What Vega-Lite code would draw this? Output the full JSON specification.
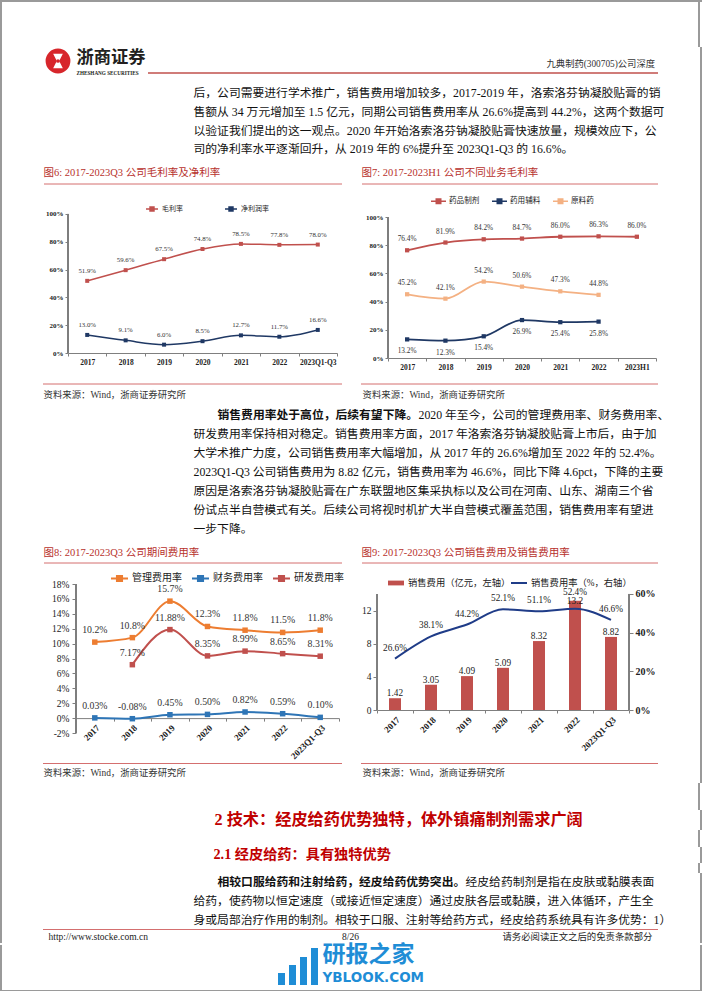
{
"$schema":"https://vega.github.io/schema/vega-lite/v6.json",
"padding":0,
"background":"white",
"spacing":0,
"resolve":{"scale":{"color":"independent","stroke":"independent"}},
"config":{
 "view":{"stroke":null},
 "font":"Liberation Serif, Noto Sans CJK SC",
 "concat":{"spacing":0},
 "axis":{"grid":false,"labelColor":"#222","domainColor":"#7f7f7f","tickColor":"#7f7f7f","labelFont":"Liberation Serif"},
 "legend":{"labelColor":"#222","labelFont":"Liberation Serif, Noto Sans CJK SC"},
 "locale":{"number":{"decimal":".","thousands":",","grouping":[3],"currency":["",""],"minus":"-"}}
},
"vconcat":[
 {"width":702,"height":2,"data":{"values":[{}]},"mark":{"type":"rect","color":"#9a9a9a"},"encoding":{}},
 {"hconcat":[
  {"width":2,"height":45,"data":{"values":[{}]},"mark":{"type":"rect","color":"#9a9a9a"},"encoding":{}},
  {"width":696,"height":45,"data":{"values":[]},"mark":"rect"},
  {"width":2,"height":45,"data":{"values":[{}]},"mark":{"type":"rect","color":"#9a9a9a"},"encoding":{}}
 ],"spacing":0,"bounds":"flush"},
 {"hconcat":[
  {"width":2,"height":37,"data":{"values":[{}]},"mark":{"type":"rect","color":"#9a9a9a"},"encoding":{}},
  {"width":42,"height":1,"data":{"values":[]},"mark":"rect"},
  {"width":28,"height":28,"data":{"values":[{}]},"layer":[
   {"mark":{"type":"point","shape":"circle","size":616,"filled":true,"color":"#d7262b","opacity":1},"encoding":{}},
   {"mark":{"type":"point","shape":"M-0.6,-0.9L0.6,-0.9L0.15,0L0.6,0.9L-0.6,0.9L-0.15,0Z","size":260,"filled":true,"color":"#ffffff","opacity":1},"encoding":{}},
   {"mark":{"type":"point","shape":"circle","size":14,"filled":true,"color":"#d7262b","opacity":1},"encoding":{}}
  ]},
  {"width":4,"height":1,"data":{"values":[]},"mark":"rect"},
  {"width":1,"height":37,"data":{"values":[{"line":1,"t":"浙商证券"},{"line":2,"t":"ZHESHANG SECURITIES"}]},
   "encoding":{"y":{"field":"line","type":"ordinal","axis":null,"scale":{"domain":[1,2],"padding":0.6935}},"text":{"field":"t"}},
   "layer":[
    {"transform":[{"filter":"datum.line === 1"}],"mark":{"type":"text","align":"left","baseline":"middle","font":"Noto Sans CJK SC","fontSize":17.3,"fontWeight":"bold","color":"#231f20"}},
    {"transform":[{"filter":"datum.line === 2"}],"mark":{"type":"text","align":"left","baseline":"middle","font":"Liberation Serif","fontSize":5.2,"fontWeight":"bold","color":"#231f20"}}
   ]},
  {"width":71,"height":1,"data":{"values":[]},"mark":"rect"},
  {"width":510,"height":26,"layer":[
   {"data":{"values":[{}]},"mark":{"type":"rule","color":"#c0504d","strokeWidth":1.5},"encoding":{"y":{"value":"height"}}},
   {"data":{"values":[{"line":2,"t":"九典制药(300705)公司深度"}]},"mark":{"type":"text","align":"right","baseline":"middle","fontSize":9.3,"color":"#333","dx":-3},"encoding":{"x":{"value":"width"},"y":{"field":"line","type":"ordinal","axis":null,"scale":{"domain":[1,2],"padding":1.125}},"text":{"field":"t"}}}
  ]},
  {"width":42,"height":1,"data":{"values":[]},"mark":"rect"},
  {"width":2,"height":37,"data":{"values":[{}]},"mark":{"type":"rect","color":"#9a9a9a"},"encoding":{}}
 ],"spacing":0,"bounds":"flush"},
 {"hconcat":[
  {"width":2,"height":75,"data":{"values":[{}]},"mark":{"type":"rect","color":"#9a9a9a"},"encoding":{}},
  {"width":191,"height":1,"data":{"values":[]},"mark":"rect"},
  {"width":1,"height":{"step":18.7},"data":{"values":[
   {"line":1,"t":"后，公司需要进行学术推广，销售费用增加较多，2017-2019 年，洛索洛芬钠凝胶贴膏的销"},
   {"line":2,"t":"售额从 34 万元增加至 1.5 亿元，同期公司销售费用率从 26.6%提高到 44.2%，这两个数据可"},
   {"line":3,"t":"以验证我们提出的这一观点。2020 年开始洛索洛芬钠凝胶贴膏快速放量，规模效应下，公"},
   {"line":4,"t":"司的净利率水平逐渐回升，从 2019 年的 6%提升至 2023Q1-Q3 的 16.6%。"}
  ]},"mark":{"type":"text","align":"left","baseline":"middle","fontSize":11.8,"color":"#111"},"encoding":{"y":{"field":"line","type":"ordinal","axis":null},"text":{"field":"t"}}},
  {"width":506,"height":1,"data":{"values":[]},"mark":"rect"},
  {"width":2,"height":75,"data":{"values":[{}]},"mark":{"type":"rect","color":"#9a9a9a"},"encoding":{}}
 ],"spacing":0,"bounds":"flush"},
 {"hconcat":[
  {"width":2,"height":28,"data":{"values":[{}]},"mark":{"type":"rect","color":"#9a9a9a"},"encoding":{}},
  {"width":41,"height":1,"data":{"values":[]},"mark":"rect"},
  {"width":1,"height":28,"data":{"values":[{"t":"图6:  2017-2023Q3 公司毛利率及净利率"}]},"mark":{"type":"text","align":"left","baseline":"middle","fontSize":10.5,"color":"#b7312c"},"encoding":{"text":{"field":"t"}}},
  {"width":298,"height":25,"data":{"values":[{}]},"mark":{"type":"rule","color":"#d46f6f","strokeWidth":1},"encoding":{"y":{"value":"height"}}},
  {"width":19,"height":1,"data":{"values":[]},"mark":"rect"},
  {"width":1,"height":28,"data":{"values":[{"t":"图7:  2017-2023H1 公司不同业务毛利率"}]},"mark":{"type":"text","align":"left","baseline":"middle","fontSize":10.5,"color":"#b7312c"},"encoding":{"text":{"field":"t"}}},
  {"width":296,"height":25,"data":{"values":[{}]},"mark":{"type":"rule","color":"#d46f6f","strokeWidth":1},"encoding":{"y":{"value":"height"}}},
  {"width":42,"height":1,"data":{"values":[]},"mark":"rect"},
  {"width":2,"height":28,"data":{"values":[{}]},"mark":{"type":"rect","color":"#9a9a9a"},"encoding":{}}
 ],"spacing":0,"bounds":"flush"},
 {"hconcat":[
  {"width":2,"height":189,"data":{"values":[{}]},"mark":{"type":"rect","color":"#9a9a9a"},"encoding":{}},
  {"width":66,"height":1,"data":{"values":[]},"mark":"rect"},
  {"width":269,"height":166,
   "data":{"values":[
    {"x":"2017","s":"毛利率","v":0.519},{"x":"2018","s":"毛利率","v":0.596},{"x":"2019","s":"毛利率","v":0.675},{"x":"2020","s":"毛利率","v":0.748},{"x":"2021","s":"毛利率","v":0.785},{"x":"2022","s":"毛利率","v":0.778},{"x":"2023Q1-Q3","s":"毛利率","v":0.780},
    {"x":"2017","s":"净利润率","v":0.130},{"x":"2018","s":"净利润率","v":0.091},{"x":"2019","s":"净利润率","v":0.060},{"x":"2020","s":"净利润率","v":0.085},{"x":"2021","s":"净利润率","v":0.127},{"x":"2022","s":"净利润率","v":0.117},{"x":"2023Q1-Q3","s":"净利润率","v":0.166}
   ]},
   "encoding":{
    "x":{"field":"x","type":"ordinal","sort":null,"scale":{"type":"band","paddingInner":0,"paddingOuter":0},"axis":{"title":null,"labelAngle":0,"labelFontWeight":"bold","labelFontSize":7.5,"labelPadding":2,"tickSize":3,"tickBand":"extent"}},
    "y":{"field":"v","type":"quantitative","scale":{"domain":[0,1.19424],"nice":false},"axis":{"title":null,"domain":false,"format":".0%","values":[0,0.2,0.4,0.6,0.8,1],"labelFontWeight":"bold","labelFontSize":7,"tickSize":3,"labelPadding":2}},
    "color":{"field":"s","type":"nominal","scale":{"domain":["毛利率","净利润率"],"range":["#c0504d","#1f3864"]},"legend":{"title":null,"orient":"none","legendX":77,"legendY":15,"direction":"horizontal","symbolType":"M-1,0H1M-0.33,-0.33H0.33V0.33H-0.33Z","symbolSize":144,"symbolStrokeWidth":1.5,"labelFontSize":7,"labelOffset":3,"columnPadding":39}}
   },
   "layer":[
    {"mark":{"type":"rule"},"encoding":{"x":{"datum":"2017","type":"ordinal","bandPosition":0},"y":{"datum":0},"y2":{"datum":1},"color":{"value":"#7f7f7f"}}},
    {"mark":{"type":"line","interpolate":"monotone","strokeWidth":1.5}},
    {"mark":{"type":"square","size":16,"opacity":1,"filled":true}},
    {"mark":{"type":"text","dy":-10,"fontSize":6.8},"encoding":{"text":{"field":"v","format":".1%"},"color":{"value":"#333"}}}
   ]},
  {"width":51,"height":1,"data":{"values":[]},"mark":"rect"},
  {"width":268,"height":171,
   "data":{"values":[
    {"x":"2017","s":"药品制剂","v":0.764},{"x":"2018","s":"药品制剂","v":0.819},{"x":"2019","s":"药品制剂","v":0.842},{"x":"2020","s":"药品制剂","v":0.847},{"x":"2021","s":"药品制剂","v":0.860},{"x":"2022","s":"药品制剂","v":0.863},{"x":"2023H1","s":"药品制剂","v":0.860},
    {"x":"2017","s":"药用辅料","v":0.132},{"x":"2018","s":"药用辅料","v":0.123},{"x":"2019","s":"药用辅料","v":0.154},{"x":"2020","s":"药用辅料","v":0.269},{"x":"2021","s":"药用辅料","v":0.254},{"x":"2022","s":"药用辅料","v":0.258},
    {"x":"2017","s":"原料药","v":0.452},{"x":"2018","s":"原料药","v":0.421},{"x":"2019","s":"原料药","v":0.542},{"x":"2020","s":"原料药","v":0.506},{"x":"2021","s":"原料药","v":0.473},{"x":"2022","s":"原料药","v":0.448}
   ]},
   "encoding":{
    "x":{"field":"x","type":"ordinal","sort":null,"scale":{"type":"band","paddingInner":0,"paddingOuter":0},"axis":{"title":null,"labelAngle":0,"labelFontWeight":"bold","labelFontSize":7.5,"labelPadding":2,"tickSize":3,"tickBand":"extent"}},
    "y":{"field":"v","type":"quantitative","scale":{"domain":[0,1.21277],"nice":false},"axis":{"title":null,"domain":false,"format":".0%","values":[0,0.2,0.4,0.6,0.8,1],"labelFontWeight":"bold","labelFontSize":7,"tickSize":3,"labelPadding":2}},
    "color":{"field":"s","type":"nominal","scale":{"domain":["药品制剂","药用辅料","原料药"],"range":["#c0504d","#1f3864","#f4b183"]},"legend":{"title":null,"orient":"none","legendX":42,"legendY":5.5,"direction":"horizontal","symbolType":"M-1,0H1M-0.3,-0.3H0.3V0.3H-0.3Z","symbolSize":225,"symbolStrokeWidth":1.5,"labelFontSize":7.6,"labelOffset":2,"columnPadding":9}}
   },
   "layer":[
    {"mark":{"type":"rule"},"encoding":{"x":{"datum":"2017","type":"ordinal","bandPosition":0},"y":{"datum":0},"y2":{"datum":1},"color":{"value":"#7f7f7f"}}},
    {"mark":{"type":"line","interpolate":"monotone","strokeWidth":1.8}},
    {"mark":{"type":"square","size":18,"opacity":1,"filled":true}},
    {"transform":[{"filter":"datum.s !== '药用辅料'"}],"mark":{"type":"text","dy":-11,"fontSize":7.3},"encoding":{"text":{"field":"v","format":".1%"},"color":{"value":"#333"}}},
    {"transform":[{"filter":"datum.s === '药用辅料'"}],"mark":{"type":"text","dy":12,"fontSize":7.3},"encoding":{"text":{"field":"v","format":".1%"},"color":{"value":"#333"}}}
   ]},
  {"width":44,"height":1,"data":{"values":[]},"mark":"rect"},
  {"width":2,"height":189,"data":{"values":[{}]},"mark":{"type":"rect","color":"#9a9a9a"},"encoding":{}}
 ],"spacing":0,"bounds":"flush","resolve":{"scale":{"color":"independent"}}},
 {"hconcat":[
  {"width":2,"height":9,"data":{"values":[{}]},"mark":{"type":"rect","color":"#9a9a9a"},"encoding":{}},
  {"width":41,"height":1,"data":{"values":[]},"mark":"rect"},
  {"width":299,"height":8,"data":{"values":[{}]},"mark":{"type":"rule","color":"#d46f6f","strokeWidth":1},"encoding":{"y":{"value":"height"}}},
  {"width":19,"height":1,"data":{"values":[]},"mark":"rect"},
  {"width":297,"height":8,"data":{"values":[{}]},"mark":{"type":"rule","color":"#d46f6f","strokeWidth":1},"encoding":{"y":{"value":"height"}}},
  {"width":42,"height":1,"data":{"values":[]},"mark":"rect"},
  {"width":2,"height":9,"data":{"values":[{}]},"mark":{"type":"rect","color":"#9a9a9a"},"encoding":{}}
 ],"spacing":0,"bounds":"flush"},
 {"hconcat":[
  {"width":2,"height":20,"data":{"values":[{}]},"mark":{"type":"rect","color":"#9a9a9a"},"encoding":{}},
  {"width":41,"height":1,"data":{"values":[]},"mark":"rect"},
  {"width":1,"height":19,"data":{"values":[{"t":"资料来源：Wind，浙商证券研究所"}]},"mark":{"type":"text","align":"left","baseline":"middle","fontSize":9.4,"color":"#333"},"encoding":{"text":{"field":"t"}}},
  {"width":318,"height":1,"data":{"values":[]},"mark":"rect"},
  {"width":1,"height":19,"data":{"values":[{"t":"资料来源：Wind，浙商证券研究所"}]},"mark":{"type":"text","align":"left","baseline":"middle","fontSize":9.4,"color":"#333"},"encoding":{"text":{"field":"t"}}},
  {"width":337,"height":1,"data":{"values":[]},"mark":"rect"},
  {"width":2,"height":20,"data":{"values":[{}]},"mark":{"type":"rect","color":"#9a9a9a"},"encoding":{}}
 ],"spacing":0,"bounds":"flush"},
 {"hconcat":[
  {"width":2,"height":133,"data":{"values":[{}]},"mark":{"type":"rect","color":"#9a9a9a"},"encoding":{}},
  {"width":191,"height":1,"data":{"values":[]},"mark":"rect"},
  {"width":1,"height":{"step":19},"data":{"values":[
   {"line":2,"t":"研发费用率保持相对稳定。销售费用率方面，2017 年洛索洛芬钠凝胶贴膏上市后，由于加"},
   {"line":3,"t":"大学术推广力度，公司销售费用率大幅增加，从 2017 年的 26.6%增加至 2022 年的 52.4%。"},
   {"line":4,"t":"2023Q1-Q3 公司销售费用为 8.82 亿元，销售费用率为 46.6%，同比下降 4.6pct，下降的主要"},
   {"line":5,"t":"原因是洛索洛芬钠凝胶贴膏在广东联盟地区集采执标以及公司在河南、山东、湖南三个省"},
   {"line":6,"t":"份试点半自营模式有关。后续公司将视时机扩大半自营模式覆盖范围，销售费用率有望进"},
   {"line":7,"t":"一步下降。"}
  ]},"mark":{"type":"text","align":"left","baseline":"middle","fontSize":11.8,"color":"#111"},"encoding":{"y":{"field":"line","type":"ordinal","axis":null,"scale":{"domain":[1,2,3,4,5,6,7]}},"text":{"field":"t"}}},
  {"width":23,"height":1,"data":{"values":[]},"mark":"rect"},
  {"width":1,"height":19,"data":{"values":[{"t":"销售费用率处于高位，后续有望下降。"}]},"mark":{"type":"text","align":"left","baseline":"middle","fontSize":11.8,"fontWeight":"bold","color":"#111"},"encoding":{"text":{"field":"t"}}},
  {"width":200,"height":1,"data":{"values":[]},"mark":"rect"},
  {"width":1,"height":19,"data":{"values":[{"t":"2020 年至今，公司的管理费用率、财务费用率、"}]},"mark":{"type":"text","align":"left","baseline":"middle","fontSize":11.8,"color":"#111"},"encoding":{"text":{"field":"t"}}},
  {"width":281,"height":1,"data":{"values":[]},"mark":"rect"},
  {"width":2,"height":133,"data":{"values":[{}]},"mark":{"type":"rect","color":"#9a9a9a"},"encoding":{}}
 ],"spacing":0,"bounds":"flush"},
 {"hconcat":[
  {"width":2,"height":30,"data":{"values":[{}]},"mark":{"type":"rect","color":"#9a9a9a"},"encoding":{}},
  {"width":41,"height":1,"data":{"values":[]},"mark":"rect"},
  {"width":1,"height":30,"data":{"values":[{"t":"图8:  2017-2023Q3 公司期间费用率"}]},"mark":{"type":"text","align":"left","baseline":"middle","fontSize":10.5,"color":"#b7312c"},"encoding":{"text":{"field":"t"}}},
  {"width":298,"height":25,"data":{"values":[{}]},"mark":{"type":"rule","color":"#d46f6f","strokeWidth":1},"encoding":{"y":{"value":"height"}}},
  {"width":19,"height":1,"data":{"values":[]},"mark":"rect"},
  {"width":1,"height":30,"data":{"values":[{"t":"图9:  2017-2023Q3 公司销售费用及销售费用率"}]},"mark":{"type":"text","align":"left","baseline":"middle","fontSize":10.5,"color":"#b7312c"},"encoding":{"text":{"field":"t"}}},
  {"width":296,"height":25,"data":{"values":[{}]},"mark":{"type":"rule","color":"#d46f6f","strokeWidth":1},"encoding":{"y":{"value":"height"}}},
  {"width":42,"height":1,"data":{"values":[]},"mark":"rect"},
  {"width":2,"height":30,"data":{"values":[{}]},"mark":{"type":"rect","color":"#9a9a9a"},"encoding":{}}
 ],"spacing":0,"bounds":"flush"},
 {"hconcat":[
  {"width":2,"height":195,"data":{"values":[{}]},"mark":{"type":"rect","color":"#9a9a9a"},"encoding":{}},
  {"width":74,"height":1,"data":{"values":[]},"mark":"rect"},
  {"width":263,"height":165,
   "data":{"values":[
    {"x":"2017","s":"管理费用率","v":0.102},{"x":"2018","s":"管理费用率","v":0.108},{"x":"2019","s":"管理费用率","v":0.157},{"x":"2020","s":"管理费用率","v":0.123},{"x":"2021","s":"管理费用率","v":0.118},{"x":"2022","s":"管理费用率","v":0.115},{"x":"2023Q1-Q3","s":"管理费用率","v":0.118},
    {"x":"2017","s":"财务费用率","v":0.0003},{"x":"2018","s":"财务费用率","v":-0.0008},{"x":"2019","s":"财务费用率","v":0.0045},{"x":"2020","s":"财务费用率","v":0.0050},{"x":"2021","s":"财务费用率","v":0.0082},{"x":"2022","s":"财务费用率","v":0.0059},{"x":"2023Q1-Q3","s":"财务费用率","v":0.0010},
    {"x":"2018","s":"研发费用率","v":0.0717},{"x":"2019","s":"研发费用率","v":0.1188},{"x":"2020","s":"研发费用率","v":0.0835},{"x":"2021","s":"研发费用率","v":0.0899},{"x":"2022","s":"研发费用率","v":0.0865},{"x":"2023Q1-Q3","s":"研发费用率","v":0.0831}
   ]},
   "encoding":{
    "x":{"field":"x","type":"ordinal","sort":null,"scale":{"type":"band","paddingInner":0,"paddingOuter":0},"axis":{"title":null,"labelAngle":-45,"labelFontWeight":"bold","labelFontSize":9,"labelPadding":2,"tickSize":3,"tickBand":"extent","offset":-14.9}},
    "y":{"field":"v","type":"quantitative","scale":{"domain":[-0.02,0.201477],"nice":false},"axis":{"title":null,"domain":false,"format":".0%","values":[-0.02,0,0.02,0.04,0.06,0.08,0.1,0.12,0.14,0.16,0.18],"labelFontSize":9.5,"tickSize":4,"labelPadding":3}},
    "color":{"field":"s","type":"nominal","scale":{"domain":["管理费用率","财务费用率","研发费用率"],"range":["#ed7d31","#2e75b6","#c0504d"]},"legend":{"title":null,"orient":"none","legendX":34,"legendY":0.5,"direction":"horizontal","symbolType":"M-1,0H1M-0.3,-0.3H0.3V0.3H-0.3Z","symbolSize":289,"symbolStrokeWidth":2,"labelFontSize":10,"labelOffset":3,"columnPadding":6}}
   },
   "layer":[
    {"mark":{"type":"rule"},"encoding":{"x":{"datum":"2017","type":"ordinal","bandPosition":0},"y":{"datum":-0.02},"y2":{"datum":0.18},"color":{"value":"#7f7f7f"}}},
    {"mark":{"type":"line","interpolate":"monotone","strokeWidth":2}},
    {"mark":{"type":"square","size":30,"opacity":1,"filled":true}},
    {"transform":[{"filter":"datum.s === '管理费用率'"}],"mark":{"type":"text","dy":-12,"fontSize":9.8},"encoding":{"text":{"field":"v","format":".1%"},"color":{"value":"#333"}}},
    {"transform":[{"filter":"datum.s !== '管理费用率'"}],"mark":{"type":"text","dy":-12,"fontSize":9.8},"encoding":{"text":{"field":"v","format":".2%"},"color":{"value":"#333"}}}
   ]},
  {"width":38,"height":1,"data":{"values":[]},"mark":"rect"},
  {"width":252,"height":142,
   "data":{"values":[
    {"x":"2017","c":1.42,"r":0.266},{"x":"2018","c":3.05,"r":0.381},{"x":"2019","c":4.09,"r":0.442},{"x":"2020","c":5.09,"r":0.521},{"x":"2021","c":8.32,"r":0.511},{"x":"2022","c":13.2,"r":0.524},{"x":"2023Q1-Q3","c":8.82,"r":0.466}
   ]},
   "encoding":{
    "x":{"field":"x","type":"ordinal","sort":null,"scale":{"type":"band","paddingInner":0,"paddingOuter":0},"axis":{"title":null,"labelAngle":-45,"labelFontWeight":"bold","labelFontSize":9,"labelPadding":2,"tickSize":3,"tickBand":"extent"}}
   },
   "layer":[
    {"layer":[
     {"mark":{"type":"rule","color":"#7f7f7f"},"encoding":{"x":{"datum":"2017","type":"ordinal","bandPosition":0},"y":{"datum":0,"type":"quantitative","scale":{"domain":[0,17.138],"nice":false},"axis":{"title":null,"domain":false,"values":[0,2,4,6,8,10,12,14],"labelFontSize":9.5,"tickSize":4,"labelPadding":2}},"y2":{"datum":14}}},
     {"mark":{"type":"bar","size":12},"encoding":{"y":{"field":"c","type":"quantitative"},"color":{"datum":"销售费用（亿元，左轴）","type":"nominal","scale":{"range":["#c0504d"]},"legend":{"title":null,"orient":"none","legendX":10,"legendY":6,"symbolType":"M-1,-0.3H1V0.3H-1Z","symbolSize":256,"labelFontSize":9.3,"labelOffset":3}}}},
     {"transform":[{"filter":"datum.x !== '2022'"}],"mark":{"type":"text","dy":-5,"fontSize":9.3,"color":"#222"},"encoding":{"y":{"field":"c","type":"quantitative"},"text":{"field":"c","type":"nominal"}}},
     {"transform":[{"filter":"datum.x === '2022'"}],"mark":{"type":"text","dy":0,"fontSize":9.3,"color":"#222"},"encoding":{"y":{"field":"c","type":"quantitative"},"text":{"field":"c","type":"nominal"}}}
    ]},
    {"layer":[
     {"mark":{"type":"rule","color":"#7f7f7f"},"encoding":{"x":{"datum":"2023Q1-Q3","type":"ordinal","bandPosition":1},"y":{"datum":0,"type":"quantitative","scale":{"domain":[0,0.73448],"nice":false},"axis":{"title":null,"orient":"right","domain":false,"format":".0%","values":[0,0.2,0.4,0.6],"labelFontWeight":"bold","labelFontSize":10,"tickSize":4,"labelPadding":2}},"y2":{"datum":0.6}}},
     {"mark":{"type":"line","interpolate":"monotone","strokeWidth":2},"encoding":{"y":{"field":"r","type":"quantitative"},"stroke":{"datum":"销售费用率（%，右轴）","type":"nominal","scale":{"range":["#1f3c88"]},"legend":{"title":null,"orient":"none","legendX":133,"legendY":6,"symbolType":"stroke","symbolSize":256,"symbolStrokeWidth":2,"labelFontSize":9.3,"labelOffset":3}}}},
     {"transform":[{"filter":"datum.x !== '2022'"}],"mark":{"type":"text","dy":-11,"fontSize":9.3,"color":"#222"},"encoding":{"y":{"field":"r","type":"quantitative"},"text":{"field":"r","format":".1%"}}},
     {"transform":[{"filter":"datum.x === '2022'"}],"mark":{"type":"text","dy":-16.5,"fontSize":9.3,"color":"#222"},"encoding":{"y":{"field":"r","type":"quantitative"},"text":{"field":"r","format":".1%"}}}
    ]}
   ],
   "resolve":{"scale":{"y":"independent"}}},
  {"width":71,"height":1,"data":{"values":[]},"mark":"rect"},
  {"width":2,"height":195,"data":{"values":[{}]},"mark":{"type":"rect","color":"#9a9a9a"},"encoding":{}}
 ],"spacing":0,"bounds":"flush","resolve":{"scale":{"color":"independent","stroke":"independent"}}},
 {"hconcat":[
  {"width":2,"height":1,"data":{"values":[{}]},"mark":{"type":"rect","color":"#9a9a9a"},"encoding":{}},
  {"width":41,"height":1,"data":{"values":[]},"mark":"rect"},
  {"width":299,"height":1,"data":{"values":[{}]},"mark":{"type":"rect","color":"#d46f6f"},"encoding":{}},
  {"width":19,"height":1,"data":{"values":[]},"mark":"rect"},
  {"width":297,"height":1,"data":{"values":[{}]},"mark":{"type":"rect","color":"#d46f6f"},"encoding":{}},
  {"width":42,"height":1,"data":{"values":[]},"mark":"rect"},
  {"width":2,"height":1,"data":{"values":[{}]},"mark":{"type":"rect","color":"#9a9a9a"},"encoding":{}}
 ],"spacing":0,"bounds":"flush"},
 {"hconcat":[
  {"width":2,"height":19,"data":{"values":[{}]},"mark":{"type":"rect","color":"#9a9a9a"},"encoding":{}},
  {"width":41,"height":1,"data":{"values":[]},"mark":"rect"},
  {"width":1,"height":18,"data":{"values":[{"t":"资料来源：Wind，浙商证券研究所"}]},"mark":{"type":"text","align":"left","baseline":"middle","fontSize":9.4,"color":"#333"},"encoding":{"text":{"field":"t"}}},
  {"width":318,"height":1,"data":{"values":[]},"mark":"rect"},
  {"width":1,"height":18,"data":{"values":[{"t":"资料来源：Wind，浙商证券研究所"}]},"mark":{"type":"text","align":"left","baseline":"middle","fontSize":9.4,"color":"#333"},"encoding":{"text":{"field":"t"}}},
  {"width":337,"height":1,"data":{"values":[]},"mark":"rect"},
  {"width":2,"height":19,"data":{"values":[{}]},"mark":{"type":"rect","color":"#9a9a9a"},"encoding":{}}
 ],"spacing":0,"bounds":"flush"},
 {"hconcat":[
  {"width":2,"height":27,"data":{"values":[{}]},"mark":{"type":"rect","color":"#9a9a9a"},"encoding":{}},
  {"width":696,"height":27,"data":{"values":[]},"mark":"rect"},
  {"width":2,"height":27,"data":{"values":[{}]},"mark":{"type":"rect","color":"#9a9a9a"},"encoding":{}}
 ],"spacing":0,"bounds":"flush"},
 {"hconcat":[
  {"width":2,"height":20,"data":{"values":[{}]},"mark":{"type":"rect","color":"#9a9a9a"},"encoding":{}},
  {"width":212,"height":1,"data":{"values":[]},"mark":"rect"},
  {"width":1,"height":20,"data":{"values":[{"t":"2 技术：经皮给药优势独特，体外镇痛制剂需求广阔"}]},"mark":{"type":"text","align":"left","baseline":"middle","fontSize":16.2,"fontWeight":"bold","color":"#c00000"},"encoding":{"text":{"field":"t"}}},
  {"width":485,"height":1,"data":{"values":[]},"mark":"rect"},
  {"width":2,"height":20,"data":{"values":[{}]},"mark":{"type":"rect","color":"#9a9a9a"},"encoding":{}}
 ],"spacing":0,"bounds":"flush"},
 {"hconcat":[
  {"width":2,"height":17,"data":{"values":[{}]},"mark":{"type":"rect","color":"#9a9a9a"},"encoding":{}},
  {"width":696,"height":17,"data":{"values":[]},"mark":"rect"},
  {"width":2,"height":17,"data":{"values":[{}]},"mark":{"type":"rect","color":"#9a9a9a"},"encoding":{}}
 ],"spacing":0,"bounds":"flush"},
 {"hconcat":[
  {"width":2,"height":16,"data":{"values":[{}]},"mark":{"type":"rect","color":"#9a9a9a"},"encoding":{}},
  {"width":211,"height":1,"data":{"values":[]},"mark":"rect"},
  {"width":1,"height":16,"data":{"values":[{"t":"2.1 经皮给药：具有独特优势"}]},"mark":{"type":"text","align":"left","baseline":"middle","fontSize":14.2,"fontWeight":"bold","color":"#c00000"},"encoding":{"text":{"field":"t"}}},
  {"width":486,"height":1,"data":{"values":[]},"mark":"rect"},
  {"width":2,"height":16,"data":{"values":[{}]},"mark":{"type":"rect","color":"#9a9a9a"},"encoding":{}}
 ],"spacing":0,"bounds":"flush"},
 {"hconcat":[
  {"width":2,"height":10,"data":{"values":[{}]},"mark":{"type":"rect","color":"#9a9a9a"},"encoding":{}},
  {"width":696,"height":10,"data":{"values":[]},"mark":"rect"},
  {"width":2,"height":10,"data":{"values":[{}]},"mark":{"type":"rect","color":"#9a9a9a"},"encoding":{}}
 ],"spacing":0,"bounds":"flush"},
 {"hconcat":[
  {"width":2,"height":56,"data":{"values":[{}]},"mark":{"type":"rect","color":"#9a9a9a"},"encoding":{}},
  {"width":191,"height":1,"data":{"values":[]},"mark":"rect"},
  {"width":1,"height":{"step":18.6},"data":{"values":[
   {"line":2,"t":"给药，使药物以恒定速度（或接近恒定速度）通过皮肤各层或黏膜，进入体循环，产生全"},
   {"line":3,"t":"身或局部治疗作用的制剂。相较于口服、注射等给药方式，经皮给药系统具有许多优势：1）"}
  ]},"mark":{"type":"text","align":"left","baseline":"middle","fontSize":11.8,"color":"#111"},"encoding":{"y":{"field":"line","type":"ordinal","axis":null,"scale":{"domain":[1,2,3]}},"text":{"field":"t"}}},
  {"width":23,"height":1,"data":{"values":[]},"mark":"rect"},
  {"width":1,"height":18.6,"data":{"values":[{"t":"相较口服给药和注射给药，经皮给药优势突出。"}]},"mark":{"type":"text","align":"left","baseline":"middle","fontSize":11.8,"fontWeight":"bold","color":"#111"},"encoding":{"text":{"field":"t"}}},
  {"width":247,"height":1,"data":{"values":[]},"mark":"rect"},
  {"width":1,"height":18.6,"data":{"values":[{"t":"经皮给药制剂是指在皮肤或黏膜表面"}]},"mark":{"type":"text","align":"left","baseline":"middle","fontSize":11.8,"color":"#111"},"encoding":{"text":{"field":"t"}}},
  {"width":234,"height":1,"data":{"values":[]},"mark":"rect"},
  {"width":2,"height":56,"data":{"values":[{}]},"mark":{"type":"rect","color":"#9a9a9a"},"encoding":{}}
 ],"spacing":0,"bounds":"flush"},
 {"hconcat":[
  {"width":2,"height":1,"data":{"values":[{}]},"mark":{"type":"rect","color":"#9a9a9a"},"encoding":{}},
  {"width":41,"height":1,"data":{"values":[]},"mark":"rect"},
  {"width":615,"height":1,"data":{"values":[{}]},"mark":{"type":"rect","color":"#d46f6f"},"encoding":{}},
  {"width":42,"height":1,"data":{"values":[]},"mark":"rect"},
  {"width":2,"height":1,"data":{"values":[{}]},"mark":{"type":"rect","color":"#9a9a9a"},"encoding":{}}
 ],"spacing":0,"bounds":"flush"},
 {"hconcat":[
  {"width":2,"height":13,"data":{"values":[{}]},"mark":{"type":"rect","color":"#9a9a9a"},"encoding":{}},
  {"width":46,"height":1,"data":{"values":[]},"mark":"rect"},
  {"width":1,"height":13,"data":{"values":[{"t":"http://www.stocke.com.cn"}]},"mark":{"type":"text","align":"left","baseline":"middle","fontSize":9.5,"color":"#222"},"encoding":{"text":{"field":"t"}}},
  {"width":301,"height":1,"data":{"values":[]},"mark":"rect"},
  {"width":1,"height":13,"data":{"values":[{"t":"8/26"}]},"mark":{"type":"text","align":"center","baseline":"middle","fontSize":9.5,"color":"#222"},"encoding":{"text":{"field":"t"}}},
  {"width":301,"height":1,"data":{"values":[]},"mark":"rect"},
  {"width":1,"height":13,"data":{"values":[{"t":"请务必阅读正文之后的免责条款部分"}]},"mark":{"type":"text","align":"right","baseline":"middle","fontSize":9.4,"color":"#222"},"encoding":{"text":{"field":"t"}}},
  {"width":47,"height":1,"data":{"values":[]},"mark":"rect"},
  {"width":2,"height":13,"data":{"values":[{}]},"mark":{"type":"rect","color":"#9a9a9a"},"encoding":{}}
 ],"spacing":0,"bounds":"flush"},
 {"hconcat":[
  {"width":2,"height":45,"data":{"values":[{}]},"mark":{"type":"rect","color":"#9a9a9a"},"encoding":{}},
  {"width":274,"height":1,"data":{"values":[]},"mark":"rect"},
  {"width":44,"height":40,"data":{"values":[{"k":"a","h":12},{"k":"b","h":20},{"k":"c","h":28},{"k":"d","h":37}]},"mark":{"type":"bar","color":"#1f8dd6","size":7},"encoding":{"x":{"field":"k","type":"nominal","axis":null},"y":{"field":"h","type":"quantitative","axis":null,"scale":{"domain":[0,40]}}}},
  {"width":2,"height":1,"data":{"values":[]},"mark":"rect"},
  {"width":1,"height":42.5,"data":{"values":[{"line":1,"t":"研报之家"},{"line":2,"t":"YBLOOK.COM"}]},
   "encoding":{"y":{"field":"line","type":"ordinal","axis":null,"scale":{"domain":[1,2],"padding":0.444}},"text":{"field":"t"}},
   "layer":[
    {"transform":[{"filter":"datum.line === 1"}],"mark":{"type":"text","align":"left","baseline":"middle","font":"Noto Sans CJK SC","fontSize":23,"fontWeight":"bold","color":"#1f8dd6"}},
    {"transform":[{"filter":"datum.line === 2"}],"mark":{"type":"text","align":"left","baseline":"middle","font":"DejaVu Sans","fontSize":13.5,"fontWeight":"bold","color":"#1f8dd6"}}
   ]},
  {"width":377,"height":1,"data":{"values":[]},"mark":"rect"},
  {"width":2,"height":45,"data":{"values":[{}]},"mark":{"type":"rect","color":"#9a9a9a"},"encoding":{}}
 ],"spacing":0,"bounds":"flush"},
 {"width":702,"height":2,"data":{"values":[{}]},"mark":{"type":"rect","color":"#9a9a9a"},"encoding":{}},
 {"width":702,"height":1,"data":{"values":[]},"mark":"rect"}
]
}
